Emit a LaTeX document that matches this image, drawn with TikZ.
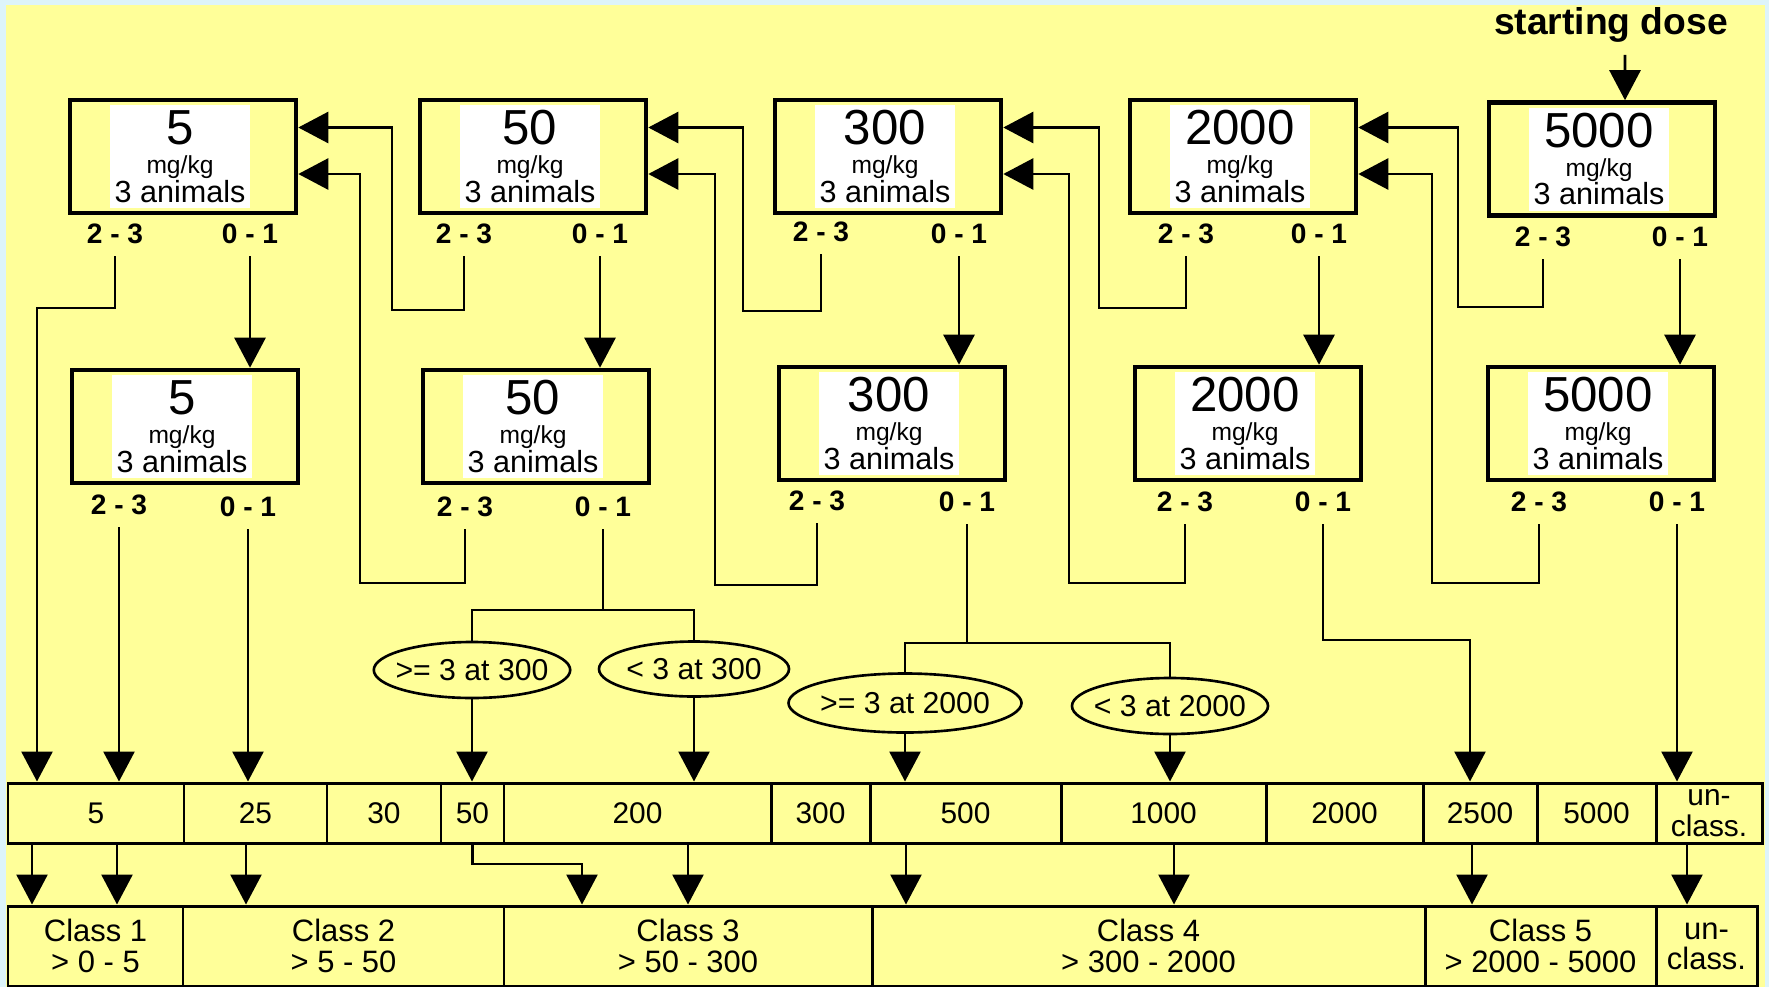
\documentclass[tikz,border=0pt]{standalone}
\usepackage{fontspec}
\setmainfont{Liberation Sans}
\usetikzlibrary{arrows.meta,shapes.geometric}
\definecolor{paper}{HTML}{FFFF99}
\definecolor{frame}{HTML}{DDF4FA}
\newcommand{\doselines}[1]{{\fontsize{14}{14}\selectfont #1}\\{\fontsize{7}{7}\selectfont mg/kg}\\3 animals}
\tikzset{
  dosebox/.style={draw, line width=1.3pt, fill=paper, minimum width=2.26cm, minimum height=1.13cm, inner sep=0pt},
  dosetext/.style={fill=white, inner sep=0pt, align=center, minimum width=1.40cm, minimum height=1.03cm, xshift=-0.3mm, font=\fontsize{8.7}{8.2}\selectfont},
  scorelbl/.style={font=\bfseries\fontsize{8}{9}\selectfont},
  dosecell/.style={draw, line width=0.85pt, minimum height=0.60cm, inner sep=0pt, align=center, font=\fontsize{8.5}{8.6}\selectfont},
  classbox/.style={draw, line width=0.85pt, minimum height=0.80cm, inner sep=0pt, align=center, font=\fontsize{8.8}{8.6}\selectfont},
  verdict/.style={draw, ellipse, line width=0.75pt, inner xsep=-2pt, inner ysep=0pt, font=\fontsize{8.6}{9}\selectfont},
  wire/.style={line width=0.75pt},
  arr/.style={wire, -{Triangle[length=3mm,width=3.1mm]}},
}
\begin{document}
\begin{tikzpicture}
\fill[frame] (0,0) rectangle (17.69,-9.87);
\fill[paper] (0.06,-0.05) rectangle (17.65,-9.87);
\useasboundingbox (0,0) rectangle (17.69,-9.87);

% dose steps, first round
\node[dosebox] (a1) at (1.83,-1.565) {};
\node[dosetext] (a1t) at (a1) {\doselines{5}};
\node[dosebox] (a2) at (5.33,-1.565) {};
\node[dosetext] (a2t) at (a2) {\doselines{50}};
\node[dosebox] (a3) at (8.88,-1.565) {};
\node[dosetext] (a3t) at (a3) {\doselines{300}};
\node[dosebox] (a4) at (12.43,-1.565) {};
\node[dosetext] (a4t) at (a4) {\doselines{2000}};
\node[dosebox] (a5) at (16.02,-1.59) {};
\node[dosetext] (a5t) at (a5) {\doselines{5000}};
\node[font=\bfseries\fontsize{10.6}{12}\selectfont] (start) at (16.11,-0.25) {starting dose};

\node[scorelbl] (a1l) at (1.15,-2.34) {2 - 3};
\node[scorelbl] (a1r) at (2.50,-2.34) {0 - 1};
\node[scorelbl] (a2l) at (4.64,-2.34) {2 - 3};
\node[scorelbl] (a2r) at (6.00,-2.34) {0 - 1};
\node[scorelbl] (a3l) at (8.21,-2.32) {2 - 3};
\node[scorelbl] (a3r) at (9.59,-2.34) {0 - 1};
\node[scorelbl] (a4l) at (11.86,-2.34) {2 - 3};
\node[scorelbl] (a4r) at (13.19,-2.34) {0 - 1};
\node[scorelbl] (a5l) at (15.43,-2.37) {2 - 3};
\node[scorelbl] (a5r) at (16.80,-2.37) {0 - 1};

% dose steps, second round
\node[dosebox] (b1) at (1.85,-4.265) {};
\node[dosetext] (b1t) at (b1) {\doselines{5}};
\node[dosebox] (b2) at (5.36,-4.265) {};
\node[dosetext] (b2t) at (b2) {\doselines{50}};
\node[dosebox] (b3) at (8.92,-4.235) {};
\node[dosetext] (b3t) at (b3) {\doselines{300}};
\node[dosebox] (b4) at (12.48,-4.235) {};
\node[dosetext] (b4t) at (b4) {\doselines{2000}};
\node[dosebox] (b5) at (16.01,-4.235) {};
\node[dosetext] (b5t) at (b5) {\doselines{5000}};

\node[scorelbl] (b1l) at (1.19,-5.05) {2 - 3};
\node[scorelbl] (b1r) at (2.48,-5.07) {0 - 1};
\node[scorelbl] (b2l) at (4.65,-5.07) {2 - 3};
\node[scorelbl] (b2r) at (6.03,-5.07) {0 - 1};
\node[scorelbl] (b3l) at (8.17,-5.01) {2 - 3};
\node[scorelbl] (b3r) at (9.67,-5.02) {0 - 1};
\node[scorelbl] (b4l) at (11.85,-5.02) {2 - 3};
\node[scorelbl] (b4r) at (13.23,-5.02) {0 - 1};
\node[scorelbl] (b5l) at (15.39,-5.02) {2 - 3};
\node[scorelbl] (b5r) at (16.77,-5.02) {0 - 1};

% outcomes of the 300 and 2000 steps
\node[verdict, minimum width=1.96cm, minimum height=0.56cm] (e1) at (4.72,-6.70) {>= 3 at 300};
\node[verdict, minimum width=1.90cm, minimum height=0.55cm] (e2) at (6.94,-6.69) {< 3 at 300};
\node[verdict, minimum width=2.33cm, minimum height=0.59cm] (e3) at (9.05,-7.03) {>= 3 at 2000};
\node[verdict, minimum width=1.96cm, minimum height=0.56cm] (e4) at (11.70,-7.06) {< 3 at 2000};

% cut-off values
\node[dosecell, minimum width=1.76cm] (m5) at (0.96,-8.13) {5};
\node[dosecell, minimum width=1.43cm] (m25) at (2.555,-8.13) {25};
\node[dosecell, minimum width=1.14cm] (m30) at (3.84,-8.13) {30};
\node[dosecell, minimum width=0.63cm] (m50) at (4.725,-8.13) {50};
\node[dosecell, minimum width=2.67cm] (m200) at (6.375,-8.13) {200};
\node[dosecell, minimum width=0.99cm] (m300) at (8.205,-8.13) {300};
\node[dosecell, minimum width=1.91cm] (m500) at (9.655,-8.13) {500};
\node[dosecell, minimum width=2.05cm] (m1000) at (11.635,-8.13) {1000};
\node[dosecell, minimum width=1.57cm] (m2000) at (13.445,-8.13) {2000};
\node[dosecell, minimum width=1.14cm] (m2500) at (14.80,-8.13) {2500};
\node[dosecell, minimum width=1.19cm] (m5000) at (15.965,-8.13) {5000};
\node[dosecell, minimum width=1.06cm] (mun) at (17.09,-8.13) {un-\\class.};

% classes
\node[classbox, minimum width=1.75cm] (c1) at (0.955,-9.46) {Class 1\\> 0 - 5};
\node[classbox, minimum width=3.21cm] (c2) at (3.435,-9.46) {Class 2\\> 5 - 50};
\node[classbox, minimum width=3.68cm] (c3) at (6.88,-9.46) {Class 3\\> 50 - 300};
\node[classbox, minimum width=5.53cm] (c4) at (11.485,-9.46) {Class 4\\> 300 - 2000};
\node[classbox, minimum width=2.31cm] (c5) at (15.405,-9.46) {Class 5\\> 2000 - 5000};
\node[classbox, minimum width=1.01cm] (cun) at (17.065,-9.46) {un-\\class.};

\coordinate (j300) at (6.03,-6.10);
\coordinate (j2000) at (9.67,-6.43);

% connectors
\draw[arr] ([xshift=1.4mm]start.south) -- ([xshift=2.3mm]a5.north);
\draw[arr] (a1r.south) -- (a1r.south |- b1.north);
\draw[arr] (a2r.south) -- (a2r.south |- b2.north);
\draw[arr] (a3r.south) -- (a3r.south |- b3.north);
\draw[arr] (a4r.south) -- (a4r.south |- b4.north);
\draw[arr] (a5r.south) -- (a5r.south |- b5.north);

\draw[arr] (a2l.south) |- (3.92,-3.10) |- ([yshift=2.9mm]a1.east);
\draw[arr] (a3l.south) |- (7.43,-3.11) |- ([yshift=2.9mm]a2.east);
\draw[arr] (a4l.south) |- (10.99,-3.08) |- ([yshift=2.9mm]a3.east);
\draw[arr] (a5l.south) |- (14.58,-3.07) |- ([yshift=2.9mm]a4.east);
\draw[arr] (b2l.south) |- (3.60,-5.83) |- ([yshift=-1.75mm]a1.east);
\draw[arr] (b3l.south) |- (7.15,-5.85) |- ([yshift=-1.75mm]a2.east);
\draw[arr] (b4l.south) |- (10.69,-5.83) |- ([yshift=-1.75mm]a3.east);
\draw[arr] (b5l.south) |- (14.32,-5.83) |- ([yshift=-1.75mm]a4.east);

\draw[arr] (a1l.south) |- (0.37,-3.08) -- (0.37,-3.08 |- m5.north);
\draw[arr] (b1l.south) -- (b1l.south |- m5.north);
\draw[arr] (b1r.south) -- (b1r.south |- m25.north);
\draw[wire] (b2r.south) -- (j300);
\draw[wire] (e1.north) |- (j300) -| (e2.north);
\draw[arr] (e1.south) -- (e1.south |- m50.north);
\draw[arr] (e2.south) -- (e2.south |- m200.north);
\draw[wire] (b3r.south) -- (j2000);
\draw[wire] (e3.north) |- (j2000) -| (e4.north);
\draw[arr] (e3.south) -- (e3.south |- m500.north);
\draw[arr] (e4.south) -- (e4.south |- m1000.north);
\draw[arr] (b4r.south) |- (14.70,-6.40) -- (14.70,-6.40 |- m2500.north);
\draw[arr] (b5r.south) -- (b5r.south |- mun.north);

\draw[arr] (0.32,0 |- m5.south) -- (0.32,0 |- c1.north);
\draw[arr] (1.17,0 |- m5.south) -- (1.17,0 |- c1.north);
\draw[arr] (2.46,0 |- m25.south) -- (2.46,0 |- c2.north);
\draw[arr] (m50.south) |- (5.82,-8.64) -- (5.82,0 |- c3.north);
\draw[arr] (6.88,0 |- m200.south) -- (6.88,0 |- c3.north);
\draw[arr] (9.06,0 |- m500.south) -- (9.06,0 |- c4.north);
\draw[arr] (11.74,0 |- m1000.south) -- (11.74,0 |- c4.north);
\draw[arr] (14.72,0 |- m2500.south) -- (14.72,0 |- c5.north);
\draw[arr] (16.87,0 |- mun.south) -- (16.87,0 |- cun.north);
\end{tikzpicture}
\end{document}
